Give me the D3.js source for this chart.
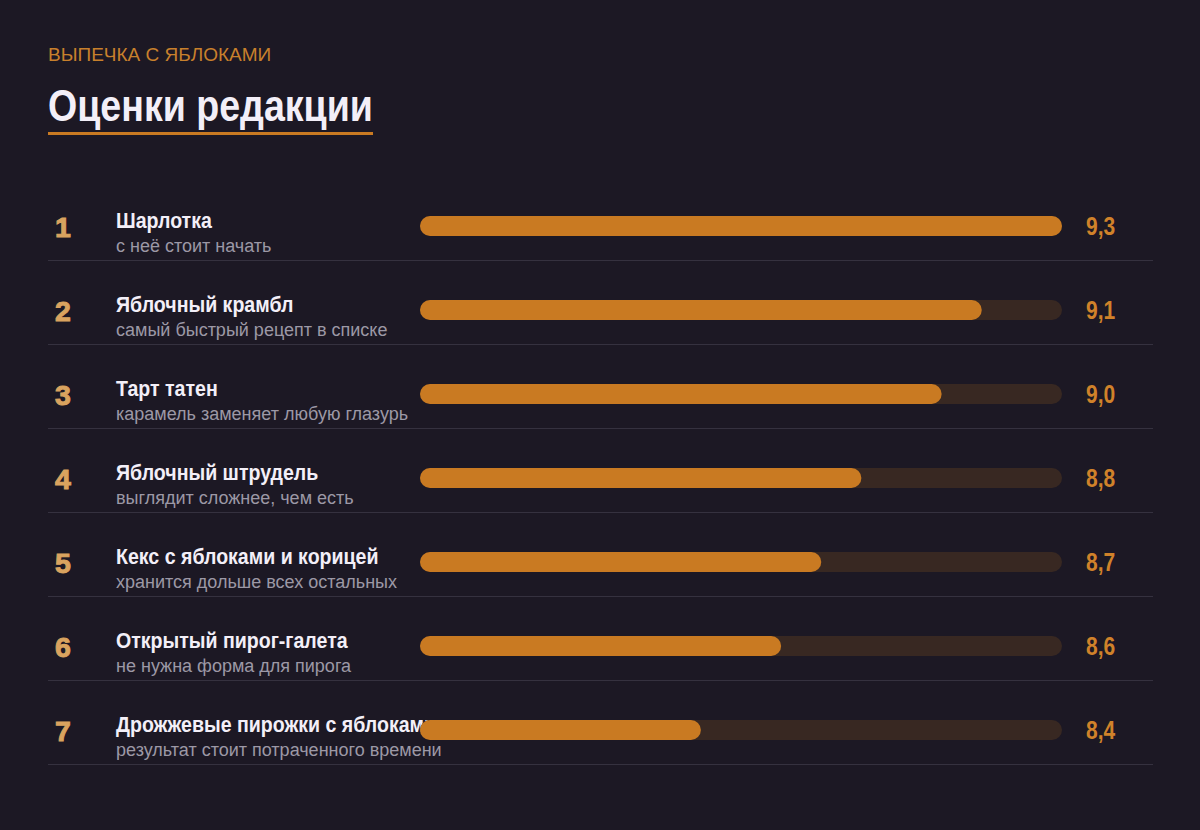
<!DOCTYPE html>
<html><head><meta charset="utf-8">
<script src="https://cdn.jsdelivr.net/npm/d3@7"></script>
<style>
html,body{margin:0;padding:0;background:#1c1824;}
svg{display:block;}
</style></head>
<body>
<svg id="c" width="1200" height="830"></svg>
<script>
const kicker = "ВЫПЕЧКА С ЯБЛОКАМИ";
const title = "Оценки редакции";
const names = ["Шарлотка","Яблочный крамбл","Тарт татен","Яблочный штрудель","Кекс с яблоками и корицей","Открытый пирог-галета","Дрожжевые пирожки с яблоками"];
const notes = ["с неё стоит начать","самый быстрый рецепт в списке","карамель заменяет любую глазурь","выглядит сложнее, чем есть","хранится дольше всех остальных","не нужна форма для пирога","результат стоит потраченного времени"];
const scores = [9.3,9.1,9.0,8.8,8.7,8.6,8.4];
const scaleDomain = [7.7,9.3];

const svg = d3.select("#c");
const W = 1200, H = 830;
const SANS = "'Liberation Sans', Arial, sans-serif";
svg.append("rect").attr("width",W).attr("height",H).attr("fill","#1c1824");

const ORANGE = "#c97a22";
svg.append("text").attr("x",48).attr("y",61).text(kicker)
  .attr("font-family",SANS).attr("font-size",19).attr("fill","#c8802c");
svg.append("text").attr("transform","translate(48,121) scale(0.835,1)").text(title)
  .attr("font-family",SANS).attr("font-weight","bold")
  .attr("font-size",45).attr("fill","#f3eff8");
svg.append("rect").attr("x",48).attr("y",132).attr("width",325).attr("height",3).attr("fill",ORANGE);

const y = d3.scaleBand().domain(d3.range(names.length)).range([184,772]).padding(0);
const x = d3.scaleLinear().domain(scaleDomain).range([420,1062]);
const barH = 20;

const g = svg.append("g").selectAll("g").data(names).join("g")
  .attr("transform",(d,i)=>`translate(0,${y(i)})`);

g.append("text").attr("x",63).attr("y",53).attr("text-anchor","middle")
  .text((d,i)=>i+1).attr("font-family",SANS).attr("font-weight","bold")
  .attr("font-size",28.5).attr("fill","#d9a35f")
  .attr("stroke","#d9a35f").attr("stroke-width",1);
g.append("text").attr("transform","translate(116,44) scale(0.91,1)").text(d=>d)
  .attr("font-family",SANS).attr("font-weight","bold")
  .attr("font-size",21.5).attr("fill","#f3eff8");
g.append("text").attr("x",116).attr("y",68).text((d,i)=>notes[i])
  .attr("font-family",SANS)
  .attr("font-size",18).attr("fill","#9c98a6");
g.append("rect").attr("x",x(scaleDomain[0])).attr("y",42-barH/2)
  .attr("width",x(scaleDomain[1])-x(scaleDomain[0])).attr("height",barH)
  .attr("rx",barH/2).attr("fill","#382822");
g.append("rect").attr("x",x(scaleDomain[0])).attr("y",42-barH/2)
  .attr("width",(d,i)=>x(scores[i])-x(scaleDomain[0])).attr("height",barH)
  .attr("rx",barH/2).attr("fill",ORANGE);
g.append("text").attr("transform","translate(1086,51) scale(0.84,1)").text((d,i)=>d3.format(".1f")(scores[i]).replace(".",","))
  .attr("font-family",SANS).attr("font-weight","bold")
  .attr("font-size",25).attr("fill","#d0822a");
g.append("line").attr("x1",48).attr("x2",1153).attr("y1",76.5).attr("y2",76.5)
  .attr("stroke","#35313f").attr("stroke-width",1);
</script>
</body></html>
